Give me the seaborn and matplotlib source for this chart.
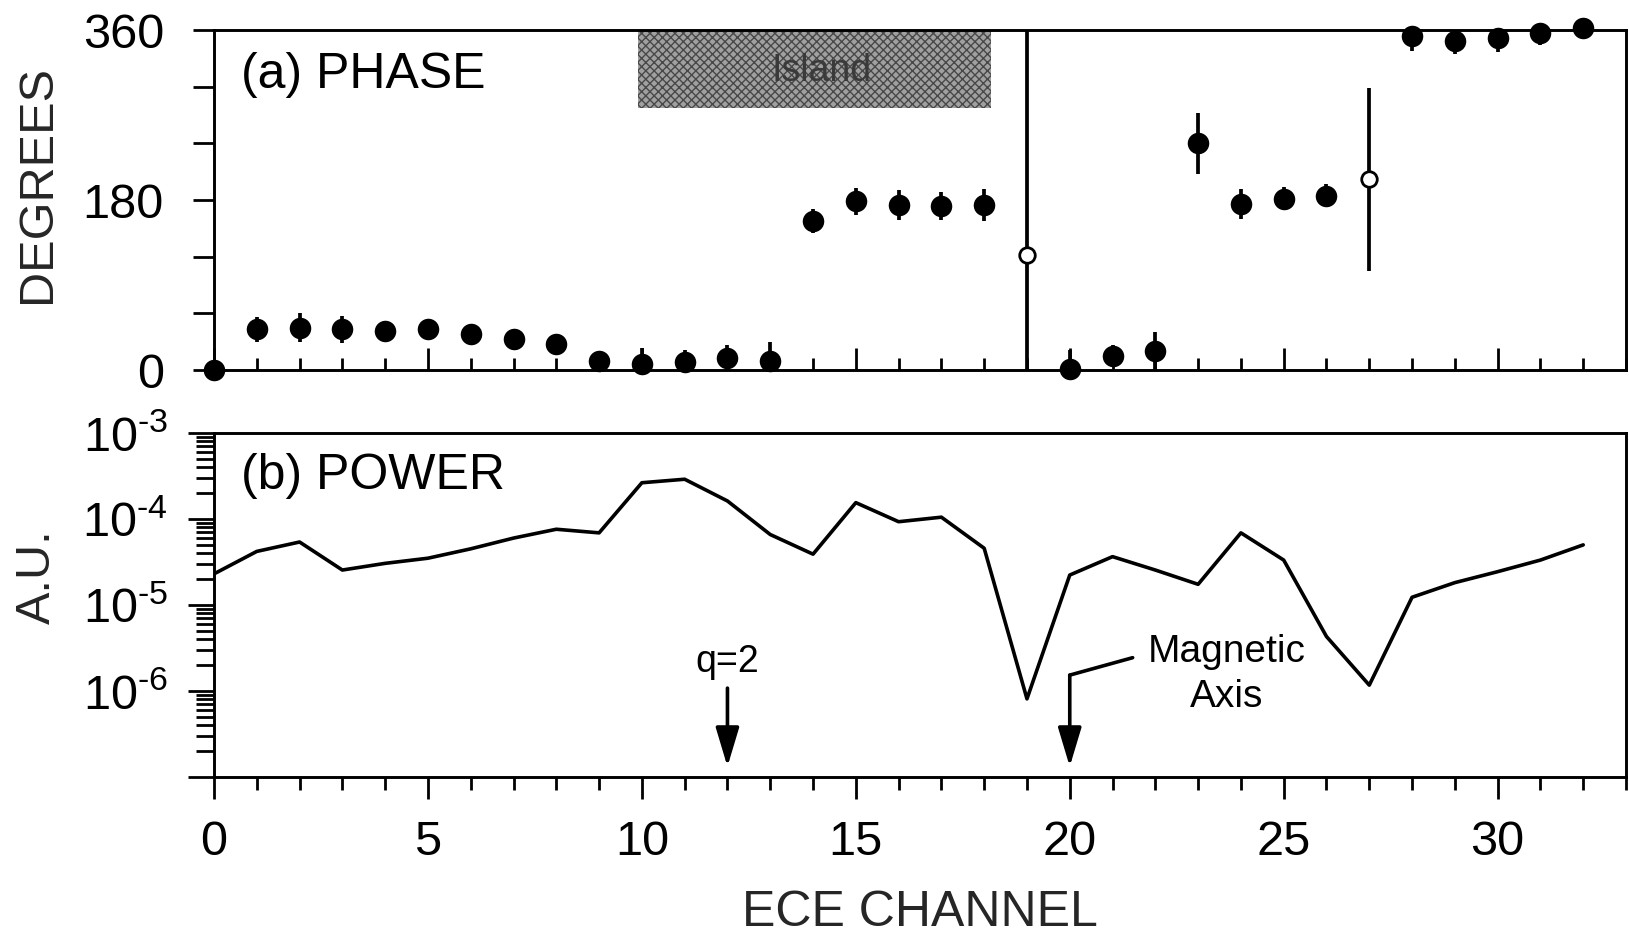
import matplotlib
matplotlib.use("Agg")
import matplotlib.pyplot as plt
import numpy as np
import pandas as pd
import seaborn as sns
from matplotlib.patches import Rectangle
from matplotlib.collections import PathCollection
from matplotlib.ticker import MultipleLocator, FixedLocator, LogLocator, NullFormatter, FixedFormatter

# ---- data -------------------------------------------------------------
channels = list(range(33))
phase_deg = [0, 43, 45, 43, 41, 43, 38, 32.5, 28, 9.5, 6, 8, 13, 9.5,
             157.5, 178.6, 175, 173.4, 175, 122, 1, 15, 20, 240,
             175.8, 181.5, 184.6, 202, 353.7, 348.8, 351.3, 356.5, 362]
phase_err = [0, 13, 15, 14, 11, 5, 5, 5, 8, 10, 17, 13, 14, 20,
             12.7, 14, 16, 15, 17, 240, 20, 11, 20, 32,
             16, 12, 12, 97, 16, 14, 15, 12, 12]
uncertain_channels = [19, 27]
power_au = [2.3e-5, 4.2e-5, 5.4e-5, 2.55e-5, 3.05e-5, 3.5e-5, 4.5e-5, 6.0e-5,
            7.6e-5, 6.9e-5, 2.64e-4, 2.9e-4, 1.62e-4, 6.6e-5, 3.9e-5, 1.55e-4,
            9.3e-5, 1.05e-4, 4.57e-5, 8.1e-7, 2.23e-5, 3.65e-5, 2.55e-5, 1.74e-5,
            6.9e-5, 3.33e-5, 4.3e-6, 1.17e-6, 1.23e-5, 1.82e-5, 2.44e-5, 3.33e-5,
            5.0e-5]
phase_ticks = [0, 180, 360]
power_ticks = [1e-6, 1e-5, 1e-4, 1e-3]
power_tick_labels = [r"$\mathdefault{10^{\text{-}6}}$", r"$\mathdefault{10^{\text{-}5}}$",
                     r"$\mathdefault{10^{\text{-}4}}$", r"$\mathdefault{10^{\text{-}3}}$"]
island_span = (9.9, 18.15)

df = pd.DataFrame({"channel": channels, "phase": phase_deg,
                   "err": phase_err, "power": power_au})
df["kind"] = np.where(df["channel"].isin(uncertain_channels), "open", "solid")

# ---- style ------------------------------------------------------------
sns.set_theme(style="ticks")
plt.rcParams["font.family"] = ["Liberation Sans", "DejaVu Sans"]
plt.rcParams["mathtext.fontset"] = "custom"
plt.rcParams["mathtext.rm"] = "Liberation Sans"
plt.rcParams["axes.linewidth"] = 2.0
plt.rcParams["axes.edgecolor"] = "black"
plt.rcParams["text.color"] = "black"
plt.rcParams["xtick.color"] = "black"
plt.rcParams["ytick.color"] = "black"

W, H = 1629, 938
fig = plt.figure(figsize=(W / 100, H / 100), dpi=100)
fig.patch.set_facecolor("white")

ax1 = fig.add_axes([214 / W, 1 - 370 / H, 1412 / W, 340 / H])
ax2 = fig.add_axes([214 / W, 1 - 777 / H, 1412 / W, 344 / H])

for ax in (ax1, ax2):
    ax.set_facecolor("white")
    for s in ax.spines.values():
        s.set_visible(True)
        s.set_color("black")
        s.set_linewidth(2.1)
    ax.set_xlim(0, 33)

# ---- (a) phase --------------------------------------------------------
ax1.set_ylim(0, 360)
ax1.add_patch(Rectangle((island_span[0], 277), island_span[1] - island_span[0], 83,
                        facecolor="#a0a0a0", edgecolor="#484848", hatch="xxxx",
                        linewidth=0, zorder=1))
ax1.text(14.2, 317, "Island", ha="center", va="center", fontsize=27,
         color="#3a3a3a", zorder=2)

ax1.errorbar(df["channel"], df["phase"], yerr=df["err"], fmt="none",
             ecolor="black", elinewidth=2.7, capsize=0, zorder=3)
solid = df[df["kind"] == "solid"]
hollow = df[df["kind"] == "open"]
sns.scatterplot(data=solid, x="channel", y="phase", ax=ax1, color="black",
                s=240, linewidth=0, zorder=4, legend=False)
sns.scatterplot(data=hollow, x="channel", y="phase", ax=ax1, facecolor="white",
                edgecolor="black", s=125, linewidth=2.0, zorder=4, legend=False)
for c in ax1.collections:
    if isinstance(c, PathCollection):
        c.set_clip_on(False)

ax1.yaxis.set_major_locator(FixedLocator(phase_ticks))
ax1.yaxis.set_minor_locator(MultipleLocator(60))
ax1.xaxis.set_major_locator(MultipleLocator(5))
ax1.xaxis.set_minor_locator(MultipleLocator(1))
ax1.tick_params(axis="x", which="major", direction="in", length=16, width=2,
                labelbottom=False, bottom=True, top=False)
ax1.tick_params(axis="x", which="minor", direction="in", length=8.5, width=2,
                bottom=True, top=False)
ax1.tick_params(axis="y", which="both", direction="out", length=15, width=2,
                labelsize=35, pad=21, left=True, right=False)
ax1.set_xlabel("")
ax1.set_ylabel("DEGREES", fontsize=35)
ax1.yaxis.set_label_coords(-0.125, 0.547)
ax1.yaxis.label.set_va("center")
ax1.text(0.019, 0.868, "(a) PHASE", transform=ax1.transAxes, fontsize=36,
         ha="left", va="center")

# ---- (b) power --------------------------------------------------------
sns.lineplot(data=df, x="channel", y="power", ax=ax2, color="black",
             linewidth=2.6, zorder=3)
ax2.set_yscale("log")
ax2.set_ylim(1e-7, 1e-3)
ax2.yaxis.set_major_locator(FixedLocator([1e-7] + power_ticks))
ax2.yaxis.set_major_formatter(FixedFormatter([""] + power_tick_labels))
ax2.yaxis.set_minor_locator(LogLocator(base=10, subs=np.arange(2, 10), numticks=20))
ax2.yaxis.set_minor_formatter(NullFormatter())
ax2.xaxis.set_major_locator(MultipleLocator(5))
ax2.xaxis.set_minor_locator(MultipleLocator(1))
ax2.tick_params(axis="x", which="major", direction="out", length=16, width=2,
                labelsize=35, pad=15, top=False)
ax2.tick_params(axis="x", which="minor", direction="out", length=9, width=2,
                top=False)
ax2.tick_params(axis="y", which="major", direction="out", length=19, width=2,
                labelsize=35, pad=14, right=False)
ax2.tick_params(axis="y", which="minor", direction="out", length=13, width=2,
                right=False)
ax2.set_xlabel("ECE CHANNEL", fontsize=36, labelpad=18)
ax2.set_ylabel("A.U.", fontsize=35)
ax2.yaxis.set_label_coords(-0.125, 0.583)
ax2.yaxis.label.set_va("center")
ax2.text(0.019, 0.875, "(b) POWER", transform=ax2.transAxes, fontsize=36,
         ha="left", va="center")

# annotations: q=2 surface and magnetic axis
arrow_kw = dict(arrowstyle="-|>,head_length=1.2,head_width=0.36", lw=2.6,
                color="black", shrinkA=0, shrinkB=0, mutation_scale=20)
ax2.annotate("", xy=(12, 1.32e-7), xytext=(12, 1.08e-6), arrowprops=arrow_kw)
ax2.text(12, 2.17e-6, "q=2", ha="center", va="center", fontsize=27)
ax2.annotate("", xy=(20, 1.32e-7), xytext=(20, 1.53e-6), arrowprops=arrow_kw)
ax2.plot([20, 21.47], [1.53e-6, 2.44e-6], color="black", lw=2.6)
ax2.text(23.67, 1.55e-6, "Magnetic\nAxis", ha="center", va="center",
         fontsize=28, linespacing=1.3)

fig.savefig("out.png", dpi=100, facecolor="white")
